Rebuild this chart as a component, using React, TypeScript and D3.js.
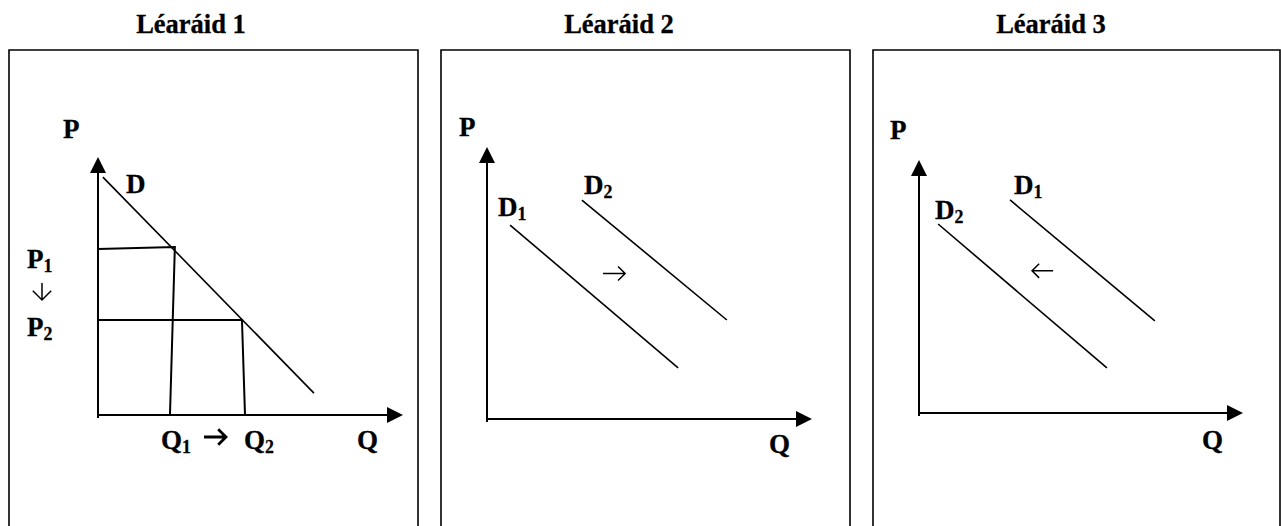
import React from "react";
import * as d3 from "d3";

// titles of the three diagrams
const titles = ["Léaráid 1", "Léaráid 2", "Léaráid 3"];

// diagram 1: single demand curve, movement along it (units 0..10 on each axis)
const demandD = [{ q: 0.16, p: 9.22 }, { q: 7.08, p: 0.85 }];
// guide lines: horizontal from (0,pStart) to (q,p), vertical from (q,p) down to (qEnd,0)
const guides = [
  { pStart: 6.43, p: 6.51, q: 2.52, qEnd: 2.36 },
  { pStart: 3.68, p: 3.68, q: 4.72, qEnd: 4.82 },
];

// diagram 2: demand shifts right
const rightD1 = [{ q: 0.71, p: 7.13 }, { q: 5.88, p: 1.88 }];
const rightD2 = [{ q: 2.92, p: 8.05 }, { q: 7.38, p: 3.64 }];
const rightArrow = [{ q: 3.57, p: 5.35 }, { q: 4.25, p: 5.35 }];

// diagram 3: demand shifts left
const leftD1 = [{ q: 2.81, p: 8.42 }, { q: 7.28, p: 3.64 }];
const leftD2 = [{ q: 0.59, p: 7.47 }, { q: 5.80, p: 1.78 }];
const leftArrow = [{ q: 4.14, p: 5.62 }, { q: 3.49, p: 5.62 }];

type Pt = { q: number; p: number };

// layout of each panel (pixels)
const panels = [
  { box: [9, 418], titleX: 191, origin: [98, 415], tip: [403, 157], P: [63, 138], Q: [357, 449] },
  { box: [441, 850], titleX: 619, origin: [487, 419], tip: [812, 147], P: [459, 136], Q: [769, 453] },
  { box: [873, 1280], titleX: 1051, origin: [919, 413], tip: [1243, 160], P: [890, 139], Q: [1202, 449] },
];

const FONT = "'Liberation Serif', 'Times New Roman', serif";

const arrowPath = (x1: number, y1: number, x2: number, y2: number, h: number) => {
  const a = Math.atan2(y2 - y1, x2 - x1);
  const l1 = [x2 - h * Math.cos(a - Math.PI / 4), y2 - h * Math.sin(a - Math.PI / 4)];
  const l2 = [x2 - h * Math.cos(a + Math.PI / 4), y2 - h * Math.sin(a + Math.PI / 4)];
  return `M${x1},${y1}L${x2},${y2}M${l1[0]},${l1[1]}L${x2},${y2}L${l2[0]},${l2[1]}`;
};

const Label = ({ x, y, text, sub, size = 27 }: { x: number; y: number; text: string; sub?: string; size?: number }) => (
  <text x={x} y={y} fontFamily={FONT} fontWeight="bold" fontSize={size} fill="#000" stroke="#000" strokeWidth={0.3}>
    {text}
    {sub && (
      <tspan fontSize={size * 0.66} dy={4}>
        {sub}
      </tspan>
    )}
  </text>
);

const App = () => {
  const scales = panels.map((pn) => {
    const x = d3.scaleLinear().domain([0, 10]).range([pn.origin[0], pn.tip[0]]);
    const y = d3.scaleLinear().domain([0, 10]).range([pn.origin[1], pn.tip[1]]);
    const line = d3
      .line<Pt>()
      .x((d) => x(d.q))
      .y((d) => y(d.p));
    return { x, y, line };
  });

  const axes = (i: number) => {
    const pn = panels[i];
    const [ox, oy] = pn.origin;
    const [tx, ty] = pn.tip;
    const ah = 16, aw = 8;
    return (
      <g key={"ax" + i}>
        <line x1={ox} y1={oy + 3} x2={ox} y2={ty + ah - 1} stroke="#000" strokeWidth={2} />
        <line x1={ox - 1} y1={oy} x2={tx - ah + 1} y2={oy} stroke="#000" strokeWidth={2} />
        <path d={`M${ox},${ty}L${ox - aw},${ty + ah}L${ox + aw},${ty + ah}Z`} fill="#000" />
        <path d={`M${tx},${oy}L${tx - ah},${oy - aw}L${tx - ah},${oy + aw}Z`} fill="#000" />
      </g>
    );
  };

  const s1 = scales[0], s2 = scales[1], s3 = scales[2];

  return (
    <svg width={1281} height={526} style={{ position: "absolute", left: 0, top: 0, background: "#fff" }}>
      <rect width={1281} height={526} fill="#fff" />
      {panels.map((pn, i) => (
        <g key={"p" + i}>
          <text x={pn.titleX} y={33} textAnchor="middle" fontFamily={FONT} fontWeight="bold" fontSize={26.5} stroke="#000" strokeWidth={0.3}>
            {titles[i]}
          </text>
          <path d={`M${pn.box[0]},530V50H${pn.box[1]}V530`} fill="none" stroke="#000" strokeWidth={1.6} />
          {axes(i)}
          <Label x={pn.P[0]} y={pn.P[1]} text="P" />
          <Label x={pn.Q[0]} y={pn.Q[1]} text="Q" />
        </g>
      ))}

      {/* diagram 1 */}
      <path d={s1.line(demandD) || ""} stroke="#000" strokeWidth={1.6} fill="none" />
      {guides.map((g, i) => (
        <path
          key={"g" + i}
          d={s1.line([{ q: 0, p: g.pStart }, { q: g.q, p: g.p }, { q: g.qEnd, p: 0 }]) || ""}
          stroke="#000"
          strokeWidth={2}
          fill="none"
        />
      ))}
      <Label x={126} y={193} text="D" />
      <Label x={27} y={268} text="P" sub="1" />
      <path d={arrowPath(42, 283, 42, 300, 13)} stroke="#000" strokeWidth={1.5} fill="none" />
      <Label x={27} y={336} text="P" sub="2" />
      <Label x={161} y={449} text="Q" sub="1" />
      <path d={arrowPath(204, 437, 226, 437, 11)} stroke="#000" strokeWidth={2.8} fill="none" />
      <Label x={244} y={449} text="Q" sub="2" />

      {/* diagram 2 */}
      <path d={s2.line(rightD1) || ""} stroke="#000" strokeWidth={1.6} fill="none" />
      <path d={s2.line(rightD2) || ""} stroke="#000" strokeWidth={1.6} fill="none" />
      <path
        d={arrowPath(s2.x(rightArrow[0].q), s2.y(rightArrow[0].p), s2.x(rightArrow[1].q), s2.y(rightArrow[1].p), 10)}
        stroke="#000"
        strokeWidth={1.5}
        fill="none"
      />
      <Label x={498} y={216} text="D" sub="1" />
      <Label x={584} y={194} text="D" sub="2" />

      {/* diagram 3 */}
      <path d={s3.line(leftD1) || ""} stroke="#000" strokeWidth={1.6} fill="none" />
      <path d={s3.line(leftD2) || ""} stroke="#000" strokeWidth={1.6} fill="none" />
      <path
        d={arrowPath(s3.x(leftArrow[0].q), s3.y(leftArrow[0].p), s3.x(leftArrow[1].q), s3.y(leftArrow[1].p), 10)}
        stroke="#000"
        strokeWidth={1.5}
        fill="none"
      />
      <Label x={935} y={219} text="D" sub="2" />
      <Label x={1014} y={194} text="D" sub="1" />
    </svg>
  );
};

export default App;
